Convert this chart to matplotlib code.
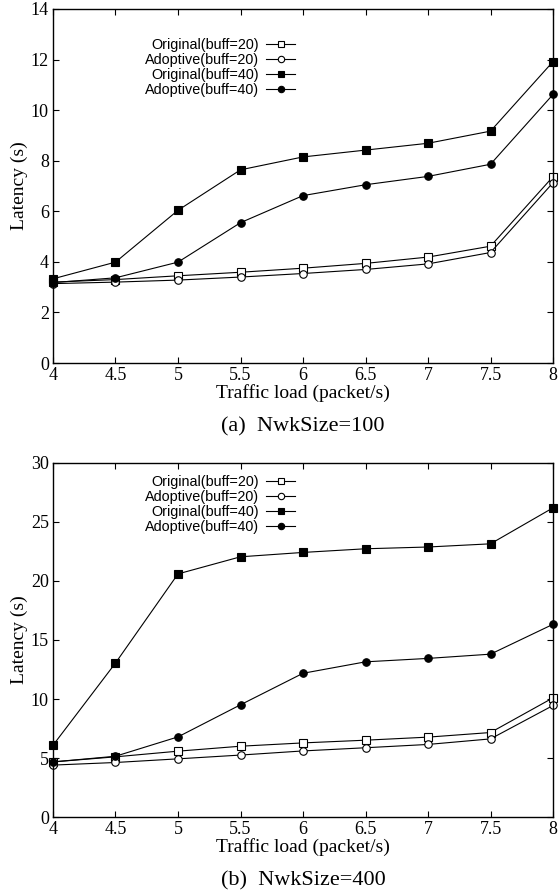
import matplotlib
matplotlib.use("Agg")
import matplotlib.pyplot as plt

# Traffic load (packet/s)
loads = [4, 4.5, 5, 5.5, 6, 6.5, 7, 7.5, 8]

# (a) NwkSize=100
orig20_100 = [3.20, 3.30, 3.45, 3.59, 3.75, 3.94, 4.19, 4.62, 7.37]
adop20_100 = [3.14, 3.20, 3.28, 3.40, 3.54, 3.70, 3.92, 4.37, 7.13]
orig40_100 = [3.33, 3.99, 6.04, 7.64, 8.15, 8.42, 8.69, 9.17, 11.92]
adop40_100 = [3.18, 3.37, 3.99, 5.55, 6.62, 7.05, 7.38, 7.86, 10.62]

# (b) NwkSize=400
orig20_400 = [4.67, 5.10, 5.58, 6.00, 6.28, 6.51, 6.77, 7.16, 10.10]
adop20_400 = [4.40, 4.62, 4.93, 5.25, 5.60, 5.87, 6.15, 6.62, 9.45]
orig40_400 = [6.08, 13.05, 20.60, 22.05, 22.42, 22.73, 22.88, 23.15, 26.20]
adop40_400 = [4.67, 5.15, 6.79, 9.51, 12.18, 13.15, 13.44, 13.80, 16.33]

labels = ["Original(buff=20)", "Adoptive(buff=20)",
          "Original(buff=40)", "Adoptive(buff=40)"]
styles = [("s", "white"), ("o", "white"), ("s", "black"), ("o", "black")]

serif = ["Liberation Serif", "DejaVu Serif"]
sans = ["Liberation Sans", "DejaVu Sans"]


def draw(ax, series, ymax, ystep, caption, leg_y):
    for vals, label, (mk, fc) in zip(series, labels, styles):
        ax.plot(loads, vals, color="black", lw=0.8, marker=mk, ms=5.4,
                mfc=fc, mec="black", mew=0.8, label=label, clip_on=False)

    ax.set_xlim(4, 8)
    ax.set_ylim(0, ymax)
    ax.set_xticks(loads)
    ax.set_xticklabels([f"{v:g}" for v in loads], family=serif, fontsize=13)
    ax.set_yticks(range(0, ymax + 1, ystep))
    ax.set_yticklabels([str(v) for v in range(0, ymax + 1, ystep)],
                       family=serif, fontsize=13)
    ax.tick_params(direction="in", length=4, width=0.8, top=True, right=True,
                   pad=3)
    ax.set_xlabel("Traffic load (packet/s)", family=serif, fontsize=14,
                  labelpad=0)
    ax.set_ylabel("Latency (s)", family=serif, fontsize=14, labelpad=2)
    for s in ax.spines.values():
        s.set_linewidth(1.0)

    leg = ax.legend(loc="upper left", bbox_to_anchor=(0.158, leg_y),
                    frameon=False, markerfirst=False, handlelength=2.0,
                    handletextpad=0.5, labelspacing=0.08, markerscale=0.85,
                    prop={"family": sans, "size": 10.4})
    for t in leg.get_texts():
        t.set_ha("right")
    leg._legend_box.align = "right"

    ax.text(0.5, -0.153, caption, transform=ax.transAxes, ha="center",
            va="top", family=serif, fontsize=16)


fig = plt.figure(figsize=(5.59, 8.90), dpi=100)
ax1 = fig.add_axes([0.0948, 0.5921, 0.8945, 0.3978])
ax2 = fig.add_axes([0.0948, 0.0820, 0.8945, 0.3978])

draw(ax1, [orig20_100, adop20_100, orig40_100, adop40_100], 14, 2,
     "(a)  NwkSize=100", 0.956)
draw(ax2, [orig20_400, adop20_400, orig40_400, adop40_400], 30, 5,
     "(b)  NwkSize=400", 1.003)

fig.savefig("out.png", dpi=100)
